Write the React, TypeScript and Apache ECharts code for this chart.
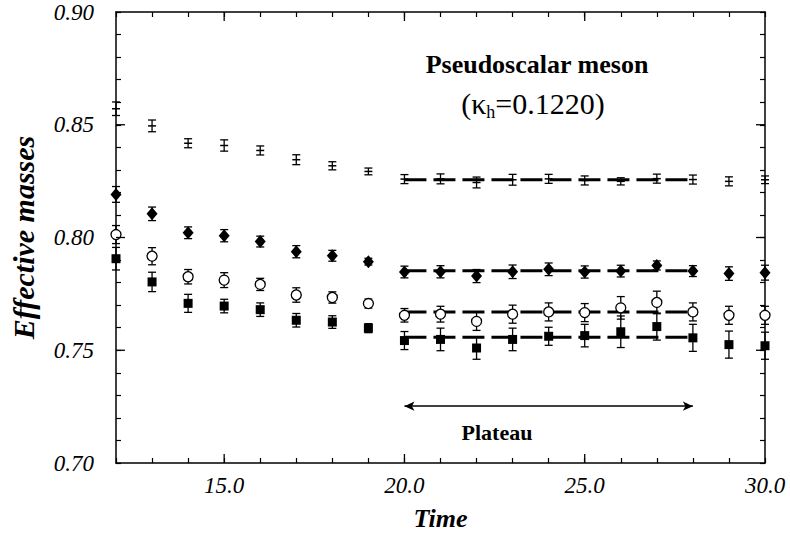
import React, { useEffect, useRef } from "react";
import * as echarts from "echarts";

const times = [12, 13, 14, 15, 16, 17, 18, 19, 20, 21, 22, 23, 24, 25, 26, 27, 28, 29, 30];

const topVals = [0.8571, 0.8495, 0.8418, 0.8408, 0.8386, 0.8345, 0.8318, 0.8293, 0.8259, 0.8260, 0.8244, 0.8256, 0.8260, 0.8253, 0.8249, 0.8261, 0.8257, 0.8249, 0.8256];
const topErrs = [0.003, 0.0026, 0.002, 0.0025, 0.002, 0.0022, 0.0018, 0.0015, 0.002, 0.0022, 0.0024, 0.0024, 0.002, 0.002, 0.0016, 0.002, 0.002, 0.002, 0.0017];

const diamondVals = [0.8191, 0.8105, 0.8021, 0.8008, 0.7982, 0.7937, 0.7919, 0.7893, 0.7847, 0.7848, 0.7829, 0.7848, 0.7859, 0.7847, 0.7851, 0.7876, 0.7851, 0.7840, 0.7844];
const diamondErrs = [0.0035, 0.003, 0.0026, 0.0027, 0.0024, 0.0027, 0.0024, 0.0015, 0.0026, 0.0027, 0.0029, 0.003, 0.0028, 0.0027, 0.0026, 0.002, 0.0024, 0.003, 0.0033];

const circleVals = [0.8013, 0.7917, 0.7826, 0.7811, 0.7792, 0.7745, 0.7734, 0.7707, 0.7655, 0.766, 0.7628, 0.766, 0.767, 0.7667, 0.7688, 0.7712, 0.767, 0.7655, 0.7655];
const circleErrs = [0.004, 0.0038, 0.0032, 0.0033, 0.0027, 0.0032, 0.0025, 0.002, 0.003, 0.0035, 0.004, 0.004, 0.004, 0.004, 0.005, 0.005, 0.004, 0.004, 0.004];

const squareVals = [0.7906, 0.7803, 0.7708, 0.7696, 0.768, 0.7633, 0.7625, 0.7598, 0.7543, 0.7548, 0.751, 0.7548, 0.7562, 0.7565, 0.7582, 0.7605, 0.7555, 0.7525, 0.752];
const squareErrs = [0.005, 0.0043, 0.004, 0.003, 0.003, 0.003, 0.0028, 0.002, 0.004, 0.005, 0.005, 0.005, 0.004, 0.005, 0.007, 0.006, 0.006, 0.006, 0.006];

const plateauRange = [20, 28];
const fitVals = [0.8256, 0.7853, 0.767, 0.7558];
const arrowLevel = 0.7252;

const xMajorTicks = [15, 20, 25];
const yMajorTicks = [0.75, 0.8, 0.85];

const X_MIN = 12, X_MAX = 30, Y_MIN = 0.7, Y_MAX = 0.9;
const FONT = "Liberation Serif";

function errData(vals: number[], errs: number[]) {
  return times.map((t, i) => [t, vals[i] - errs[i], vals[i] + errs[i]]);
}

function errSeries(vals: number[], errs: number[]) {
  return {
    type: "custom",
    data: errData(vals, errs),
    encode: { x: 0, y: [1, 2] },
    clip: false,
    z: 2,
    silent: true,
    renderItem: (params: any, api: any) => {
      const x = api.value(0);
      const lo = api.coord([x, api.value(1)]);
      const hi = api.coord([x, api.value(2)]);
      const w = 4;
      const st = { stroke: "#000", lineWidth: 1.3 };
      return {
        type: "group",
        children: [
          { type: "line", shape: { x1: lo[0], y1: lo[1], x2: hi[0], y2: hi[1] }, style: st },
          { type: "line", shape: { x1: lo[0] - w, y1: lo[1], x2: lo[0] + w, y2: lo[1] }, style: st },
          { type: "line", shape: { x1: hi[0] - w, y1: hi[1], x2: hi[0] + w, y2: hi[1] }, style: st },
        ],
      };
    },
  };
}

function pts(vals: number[]) {
  return times.map((t, i) => [t, vals[i]]);
}

function fitSeries(v: number, extra: any = {}) {
  return {
    type: "line",
    data: [[plateauRange[0], v], [plateauRange[1], v]],
    symbol: "none",
    z: 3,
    silent: true,
    lineStyle: { color: "#000", width: 3, type: [22, 7], opacity: 1 },
    ...extra,
  };
}

export default function App() {
  const ref = useRef<HTMLDivElement>(null);
  useEffect(() => {
    if (!ref.current) return;
    const chart = echarts.init(ref.current, null, { renderer: "svg" });
    const tickStyle = { color: "#000", width: 1.2 };
    const axisLine = { show: true, onZero: false, lineStyle: { color: "#000", width: 1.5 } };
    const option: any = {
      animation: false,
      backgroundColor: "#fff",
      textStyle: { fontFamily: FONT },
      grid: { left: 113, right: 25, top: 12, bottom: 72 },
      xAxis: [
        {
          type: "value", min: X_MIN, max: X_MAX, interval: 1,
          axisLine, splitLine: { show: false },
          axisTick: { show: true, inside: true, length: 5, lineStyle: tickStyle },
          axisLabel: {
            show: true, margin: 11, color: "#000", fontFamily: FONT, fontStyle: "italic", fontSize: 23,
            formatter: (v: number) => (Math.round(v) % 5 === 0 ? v.toFixed(1) : ""),
          },
          name: "Time", nameLocation: "middle", nameGap: 42,
          nameTextStyle: { color: "#000", fontFamily: FONT, fontStyle: "italic", fontWeight: "bold", fontSize: 26 },
        },
        {
          type: "value", min: X_MIN, max: X_MAX, interval: 1, position: "top",
          axisLine, splitLine: { show: false },
          axisTick: { show: true, inside: true, length: 5, lineStyle: tickStyle },
          axisLabel: { show: false },
        },
      ],
      yAxis: [
        {
          type: "value", min: Y_MIN, max: Y_MAX, interval: 0.01,
          axisLine, splitLine: { show: false },
          axisTick: { show: true, inside: true, length: 5, lineStyle: tickStyle },
          axisLabel: {
            show: true, margin: 22, color: "#000", fontFamily: FONT, fontStyle: "italic", fontSize: 23,
            formatter: (v: number) => (Math.round(v * 100) % 5 === 0 ? v.toFixed(2) : ""),
          },
          name: "Effective masses", nameLocation: "middle", nameGap: 78, nameRotate: 90,
          nameTextStyle: { color: "#000", fontFamily: FONT, fontStyle: "italic", fontWeight: "bold", fontSize: 30 },
        },
        {
          type: "value", min: Y_MIN, max: Y_MAX, interval: 0.01, position: "right",
          axisLine, splitLine: { show: false },
          axisTick: { show: true, inside: true, length: 5, lineStyle: tickStyle },
          axisLabel: { show: false },
        },
      ],
      graphic: [
        {
          type: "text", x: 537, y: 64, z: 10,
          style: {
            text: "Pseudoscalar meson", fill: "#000", fontFamily: FONT, fontWeight: "bold", fontSize: 26,
            align: "center", verticalAlign: "middle",
          },
        },
        {
          type: "text", x: 533, y: 103, z: 10,
          style: {
            text: "{n|(κ}{s|h}{n|=0.1220)}", fill: "#000", fontFamily: FONT, fontSize: 30,
            align: "center", verticalAlign: "middle",
            rich: {
              n: { fontFamily: FONT, fontSize: 30, lineHeight: 36, verticalAlign: "middle", fill: "#000" },
              s: { fontFamily: FONT, fontSize: 18, lineHeight: 18, verticalAlign: "bottom", fill: "#000" },
            },
          },
        },
        {
          type: "text", x: 497, y: 432, z: 10,
          style: {
            text: "Plateau", fill: "#000", fontFamily: FONT, fontWeight: "bold", fontSize: 22,
            align: "center", verticalAlign: "middle",
          },
        },
      ],
      series: [
        {
          type: "custom",
          data: xMajorTicks.map((x) => [x, Y_MIN]),
          clip: false, silent: true, z: 5,
          renderItem: (params: any, api: any) => {
            const x = api.value(0);
            const b = api.coord([x, Y_MIN]);
            const t = api.coord([x, Y_MAX]);
            const st = { stroke: "#000", lineWidth: 1.3 };
            return {
              type: "group",
              children: [
                { type: "line", shape: { x1: b[0], y1: b[1], x2: b[0], y2: b[1] - 9 }, style: st },
                { type: "line", shape: { x1: t[0], y1: t[1], x2: t[0], y2: t[1] + 9 }, style: st },
              ],
            };
          },
        },
        {
          type: "custom",
          data: yMajorTicks.map((y) => [X_MIN, y]),
          clip: false, silent: true, z: 5,
          renderItem: (params: any, api: any) => {
            const y = api.value(1);
            const l = api.coord([X_MIN, y]);
            const r = api.coord([X_MAX, y]);
            const st = { stroke: "#000", lineWidth: 1.3 };
            return {
              type: "group",
              children: [
                { type: "line", shape: { x1: l[0], y1: l[1], x2: l[0] + 9, y2: l[1] }, style: st },
                { type: "line", shape: { x1: r[0], y1: r[1], x2: r[0] - 9, y2: r[1] }, style: st },
              ],
            };
          },
        },
        errSeries(topVals, topErrs),
        errSeries(diamondVals, diamondErrs),
        errSeries(circleVals, circleErrs),
        errSeries(squareVals, squareErrs),
        fitSeries(fitVals[0]),
        fitSeries(fitVals[1]),
        fitSeries(fitVals[2]),
        fitSeries(fitVals[3], {
          markLine: {
            silent: true,
            symbol: ["arrow", "arrow"],
            symbolSize: [7, 10],
            label: { show: false },
            lineStyle: { type: "solid", width: 1.5, color: "#000", opacity: 1 },
            data: [[{ coord: [plateauRange[0], arrowLevel] }, { coord: [plateauRange[1], arrowLevel] }]],
          },
        }),
        {
          type: "scatter", data: pts(topVals), symbol: "rect", symbolSize: [8, 1.5], clip: false, z: 4, silent: true,
          itemStyle: { color: "#000", opacity: 1 },
        },
        {
          type: "scatter", data: pts(diamondVals), symbol: "diamond", symbolSize: [11, 13], clip: false, z: 4, silent: true,
          itemStyle: { color: "#000", opacity: 1 },
        },
        {
          type: "scatter", data: pts(circleVals), symbol: "circle", symbolSize: 10, clip: false, z: 4, silent: true,
          itemStyle: { color: "#fff", borderColor: "#000", borderWidth: 1.3, opacity: 1 },
        },
        {
          type: "scatter", data: pts(squareVals), symbol: "rect", symbolSize: 9, clip: false, z: 4, silent: true,
          itemStyle: { color: "#000", opacity: 1 },
        },
      ],
    };
    chart.setOption(option);
    return () => chart.dispose();
  }, []);
  return (
    <div
      ref={ref}
      style={{ position: "fixed", left: 0, top: 0, width: 790, height: 536, background: "#fff" }}
    />
  );
}
